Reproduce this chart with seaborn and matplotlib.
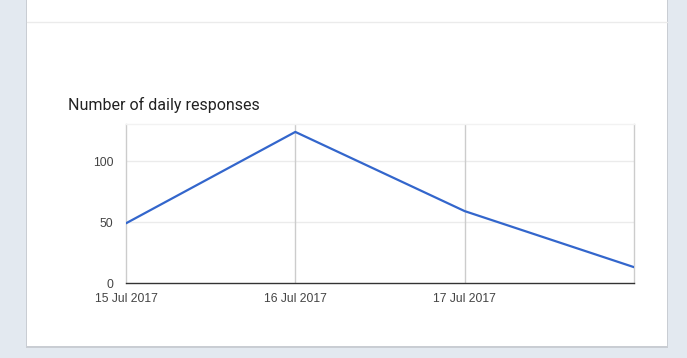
import matplotlib
matplotlib.use("Agg")
import matplotlib.pyplot as plt
import matplotlib.dates as mdates
from matplotlib.patches import Rectangle
from matplotlib.lines import Line2D
import pandas as pd
import seaborn as sns

# data
dates = ["2017-07-15", "2017-07-16", "2017-07-17", "2017-07-18"]
responses = [49, 124, 59, 13]
y_ticks = [0, 50, 100]
title = "Number of daily responses"

df = pd.DataFrame({"date": pd.to_datetime(dates), "responses": responses})

sns.set_theme(style="white")
plt.rcParams["font.family"] = ["Liberation Sans", "DejaVu Sans"]

W, H = 687, 358
fig = plt.figure(figsize=(W / 100, H / 100), dpi=100, facecolor="#e3e9f0")

def fx(px):
    return px / W

def fy(py):
    return 1 - py / H

# card with a little shadow
fig.patches.append(Rectangle((fx(26), fy(348)), fx(642), 1, transform=fig.transFigure,
                             facecolor="#c9cdd3", edgecolor="none", zorder=0))
fig.patches.append(Rectangle((fx(27), fy(346)), fx(640), 1, transform=fig.transFigure,
                             facecolor="white", edgecolor="none", zorder=1))
fig.lines.append(Line2D([fx(27), fx(667)], [fy(22), fy(22)], transform=fig.transFigure,
                        color="#ebebeb", lw=1, zorder=2))

ax = fig.add_axes([fx(126), fy(283), fx(634) - fx(126), (283 - 124) / H])
ax.set_zorder(5)
ax.set_facecolor("white")
sns.lineplot(data=df, x="date", y="responses", ax=ax, color="#3366cc", linewidth=1.6, zorder=5)

ax.set_xlim(df["date"].iloc[0], df["date"].iloc[-1])
ax.set_ylim(0, 130.5)
ax.set_yticks(y_ticks)
ax.set_xticks(df["date"].iloc[:3])
ax.xaxis.set_major_formatter(mdates.DateFormatter("%d %b %Y"))
ax.set_xlabel("")
ax.set_ylabel("")

for y in y_ticks[1:]:
    ax.axhline(y, color="#ebebeb", lw=1, zorder=1)
for d in df["date"].iloc[1:3]:
    ax.axvline(d, color="#cccccc", lw=1, zorder=2)

ax.spines["top"].set_color("#f2f2f2")
ax.spines["left"].set_color("#cccccc")
ax.spines["right"].set_color("#cccccc")
ax.spines["bottom"].set_color("#333333")
for s in ax.spines.values():
    s.set_linewidth(1)

ax.tick_params(axis="both", length=0, labelsize=8.7, colors="#444444")
ax.tick_params(axis="y", pad=9)
ax.tick_params(axis="x", pad=7)

fig.text(fx(68), fy(110), title, fontsize=11.5, color="#222222", family=["Roboto", "DejaVu Sans"],
         ha="left", va="baseline", zorder=6)

fig.savefig("out.png", dpi=100, facecolor=fig.get_facecolor())
